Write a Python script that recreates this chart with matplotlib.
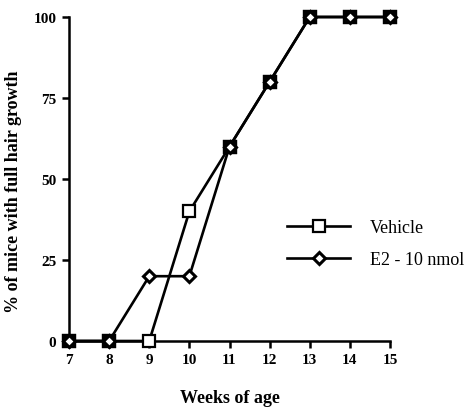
import matplotlib
matplotlib.use("Agg")
import matplotlib.pyplot as plt

weeks = [7, 8, 9, 10, 11, 12, 13, 14, 15]
vehicle = [0, 0, 0, 40, 60, 80, 100, 100, 100]
e2 = [0, 0, 20, 20, 60, 80, 100, 100, 100]
yticks = [0, 25, 50, 75, 100]

plt.rcParams['font.family'] = ['Liberation Serif', 'DejaVu Serif']

fig = plt.figure(figsize=(4.77, 4.10), dpi=100)
ax = fig.add_axes([69/477, 1-342/410, (390-69)/477, (342-18)/410])

lw = 1.9
ax.plot(weeks, vehicle, color='black', lw=lw, marker='s', ms=8.5, mfc='white',
        mec='black', mew=1.6, clip_on=False, zorder=3, label='Vehicle')
# where both series coincide, the overlapping markers appear as a solid block
same_x = [w for w, a, b in zip(weeks, vehicle, e2) if a == b]
same_y = [a for a, b in zip(vehicle, e2) if a == b]
ax.plot(same_x, same_y, ls='none', marker='s', ms=8.5, mfc='black', mec='black',
        mew=1.6, clip_on=False, zorder=3.5)
ax.plot(weeks, e2, color='black', lw=lw, marker='D', ms=6.5, mfc='white',
        mec='black', mew=2.2, clip_on=False, zorder=4, label='E2 - 10 nmol')

ax.set_xlim(7, 15)
ax.set_ylim(0, 100)
ax.set_xticks(weeks)
ax.set_yticks(yticks)
ax.tick_params(direction='out', length=5, width=1.8, labelsize=11, pad=4)
for lab in ax.get_xticklabels() + ax.get_yticklabels():
    lab.set_fontweight('bold')
for s in ['top', 'right']:
    ax.spines[s].set_visible(False)
for s in ['left', 'bottom']:
    ax.spines[s].set_linewidth(1.8)

ax.set_xlabel('Weeks of age', fontsize=13, fontweight='bold', labelpad=16)
ax.set_ylabel('% of mice with full hair growth', fontsize=13, fontweight='bold')
ax.yaxis.set_label_coords(-0.146, 0.463)

leg = ax.legend(loc='center left', bbox_to_anchor=(0.679, 0.30), frameon=False,
                handlelength=3.5, handletextpad=1.1, borderpad=0, borderaxespad=0,
                labelspacing=0.85, prop={'size': 13})

fig.savefig('out.png', dpi=100)
